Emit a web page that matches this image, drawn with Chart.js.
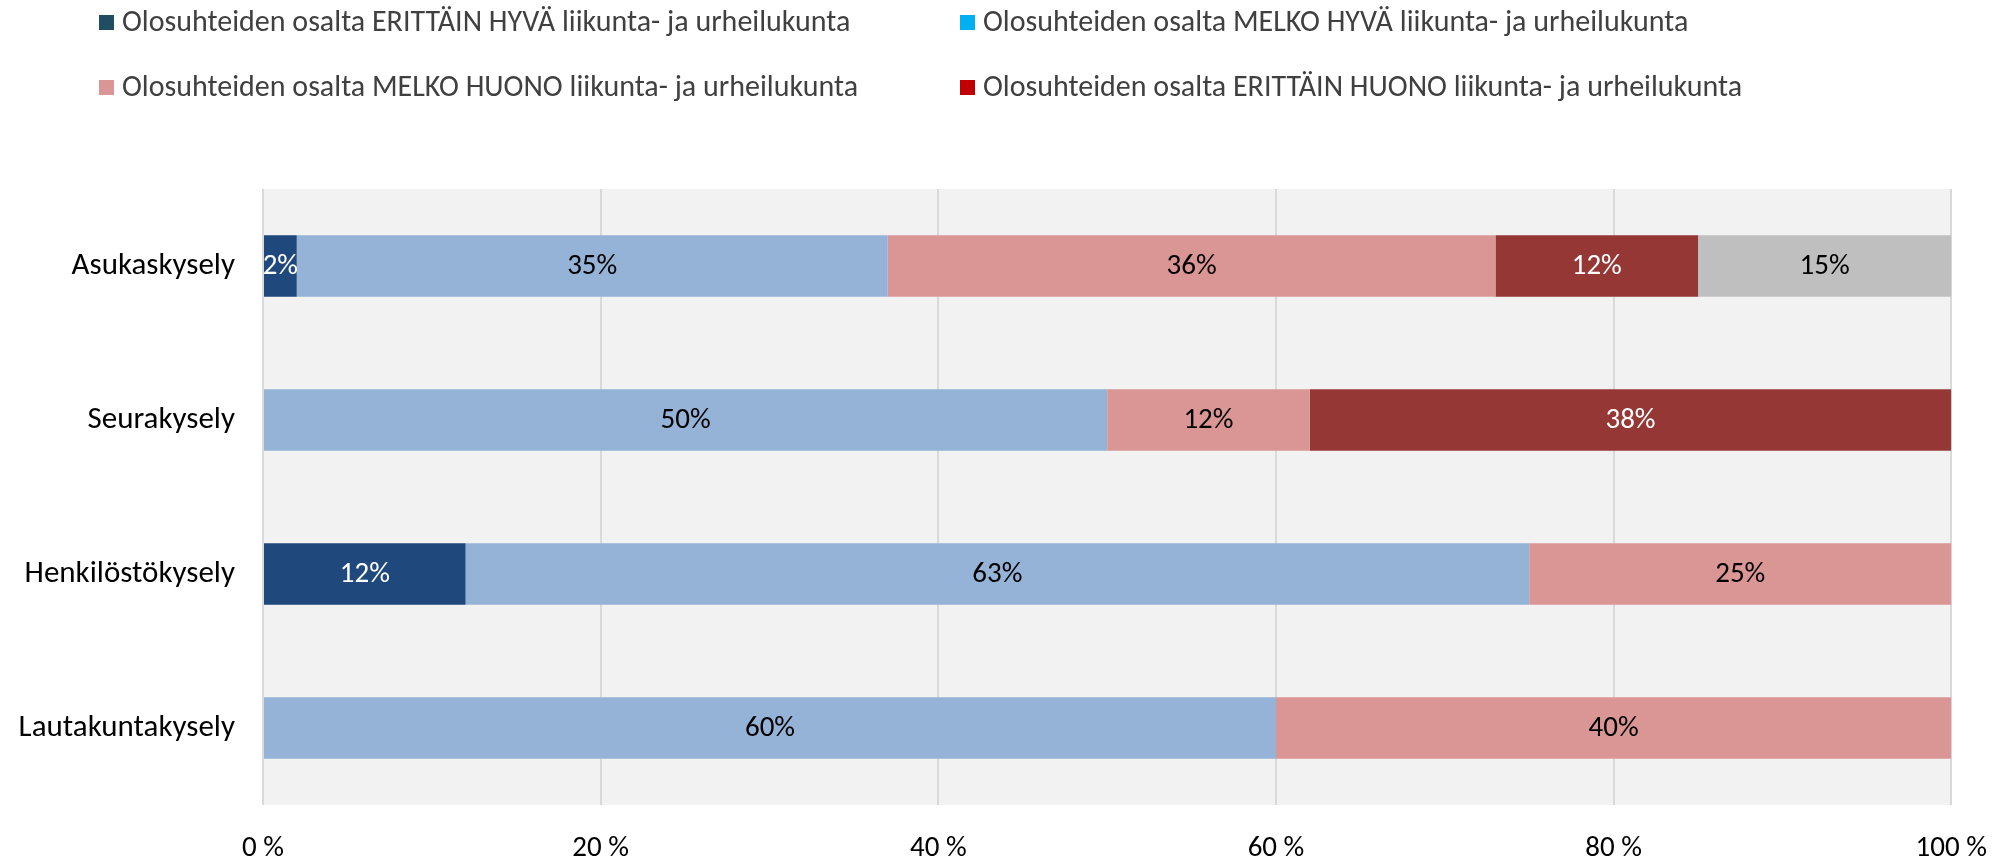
<!DOCTYPE html>
<html>
<head>
<meta charset="utf-8">
<script src="https://cdn.jsdelivr.net/npm/chart.js@4"></script>
<style>
  html, body { margin: 0; padding: 0; background: #fff; }
  #wrap { width: 2013px; height: 860px; position: relative; }
</style>
</head>
<body>
<div id="wrap"><canvas id="chart"></canvas></div>
<script>
const categories = ['Asukaskysely', 'Seurakysely', 'Henkilöstökysely', 'Lautakuntakysely'];
const erittainHyva = [2, 0, 12, 0];
const melkoHyva = [35, 50, 63, 60];
const melkoHuono = [36, 12, 25, 40];
const erittainHuono = [12, 38, 0, 0];
const eiOsaa = [15, 0, 0, 0];
const xTicks = [0, 20, 40, 60, 80, 100];

const legendNames = [
    'Olosuhteiden osalta ERITTÄIN HYVÄ liikunta- ja urheilukunta',
    'Olosuhteiden osalta MELKO HYVÄ liikunta- ja urheilukunta',
    'Olosuhteiden osalta MELKO HUONO liikunta- ja urheilukunta',
    'Olosuhteiden osalta ERITTÄIN HUONO liikunta- ja urheilukunta'
];
const legendColors = ['#1F4E63', '#00B0F0', '#DA9694', '#C00000'];

const FONT = 'Carlito, Lato, sans-serif';

// harmaa tausta piirtoalueelle
const plotBg = {
    id: 'plotBg',
    beforeDraw(chart) {
        const { ctx, chartArea: a } = chart;
        ctx.save();
        ctx.fillStyle = '#F2F2F2';
        ctx.fillRect(a.left, a.top, a.right - a.left, a.bottom - a.top);
        ctx.restore();
    }
};

// arvot palkkien keskelle
const barLabels = {
    id: 'barLabels',
    afterDatasetsDraw(chart) {
        const ctx = chart.ctx;
        ctx.save();
        ctx.font = '29px ' + FONT;
        ctx.textAlign = 'center';
        ctx.textBaseline = 'middle';
        chart.data.datasets.forEach(function (ds, i) {
            const meta = chart.getDatasetMeta(i);
            meta.data.forEach(function (bar, j) {
                const v = ds.data[j];
                if (!v) return;
                const p = bar.getProps(['x', 'y', 'base'], true);
                ctx.fillStyle = ds.labelColor;
                ctx.fillText(v + '%', (p.x + p.base) / 2, p.y + 1);
            });
        });
        ctx.restore();
    }
};

// legenda kahteen sarakkeeseen
const gridLegend = {
    id: 'gridLegend',
    afterDraw(chart) {
        const ctx = chart.ctx;
        const cols = [99, 960];
        const rows = [22, 87];
        ctx.save();
        ctx.font = '30px ' + FONT;
        ctx.textBaseline = 'middle';
        legendNames.forEach(function (name, i) {
            const x = cols[i % 2];
            const y = rows[Math.floor(i / 2)];
            ctx.fillStyle = legendColors[i];
            ctx.fillRect(x, y - 7, 15, 15);
            ctx.fillStyle = '#404040';
            ctx.fillText(name, x + 23, y + 1);
        });
        ctx.restore();
    }
};

function makeSet(label, data, color, labelColor) {
    return {
        label: label,
        data: data,
        backgroundColor: color,
        borderWidth: 0,
        barPercentage: 0.4,
        categoryPercentage: 1,
        labelColor: labelColor
    };
}

document.addEventListener('DOMContentLoaded', function () {
    const ctx = document.getElementById('chart');
    new Chart(ctx, {
        type: 'bar',
        data: {
            labels: categories,
            datasets: [
                makeSet(legendNames[0], erittainHyva, '#1F497D', '#FFFFFF'),
                makeSet(legendNames[1], melkoHyva, '#95B3D7', '#000000'),
                makeSet(legendNames[2], melkoHuono, '#DA9694', '#000000'),
                makeSet(legendNames[3], erittainHuono, '#953735', '#FFFFFF'),
                makeSet('Ei osaa sanoa', eiOsaa, '#BFBFBF', '#000000')
            ]
        },
        options: {
            indexAxis: 'y',
            responsive: true,
            maintainAspectRatio: false,
            animation: false,
            layout: { padding: { top: 189, right: 60, left: 0, bottom: 0 } },
            plugins: {
                legend: { display: false },
                tooltip: { enabled: false }
            },
            scales: {
                x: {
                    stacked: true,
                    min: 0,
                    max: 100,
                    afterBuildTicks: function (scale) {
                        scale.ticks = xTicks.map(function (v) { return { value: v }; });
                    },
                    afterFit: function (scale) { scale.height = 55; },
                    border: { display: false },
                    grid: { color: '#D9D9D9', lineWidth: 2, drawTicks: false },
                    ticks: {
                        padding: 26,
                        color: '#000',
                        font: { family: FONT, size: 29 },
                        callback: function (v) { return v + ' %'; }
                    }
                },
                y: {
                    stacked: true,
                    afterFit: function (scale) { scale.width = 263; },
                    border: { display: false },
                    grid: { display: false, drawTicks: false },
                    ticks: {
                        padding: 28,
                        color: '#000',
                        font: { family: FONT, size: 31 }
                    }
                }
            }
        },
        plugins: [plotBg, barLabels, gridLegend]
    });
});
</script>
</body>
</html>
